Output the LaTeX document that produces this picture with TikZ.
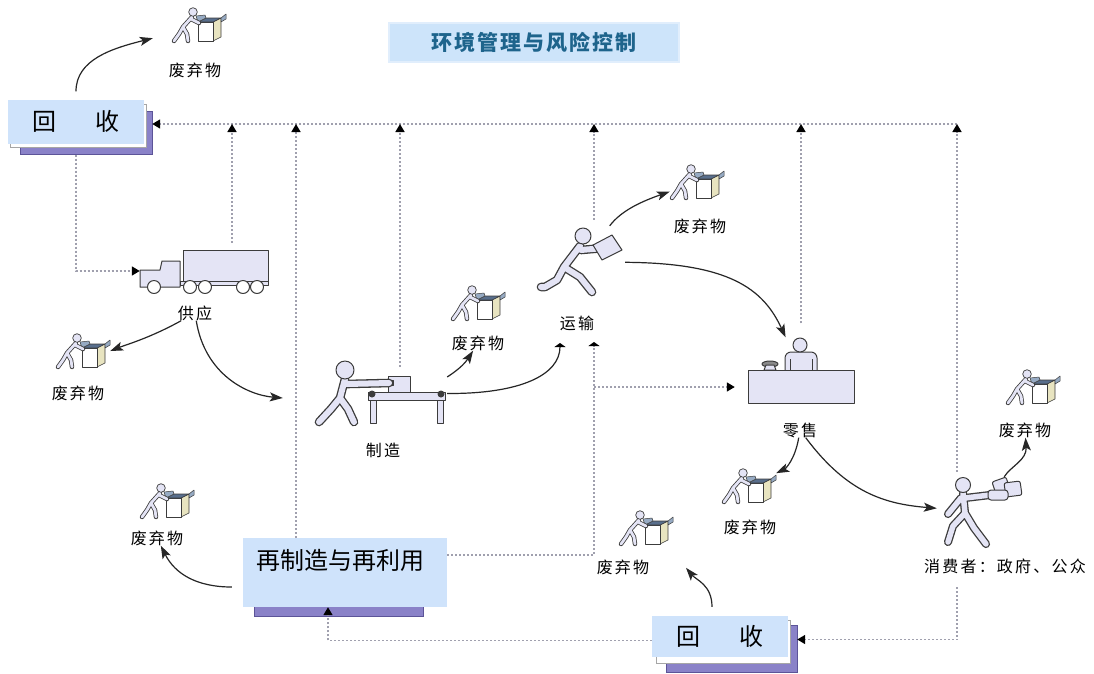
\documentclass[tikz,border=0pt]{standalone}
\usepackage{fontspec}
\newfontfamily\cjk{Noto Sans CJK SC}
\newfontfamily\cjkwide[LetterSpace=14]{Noto Sans CJK SC}
\newfontfamily\cjktitle[LetterSpace=9]{Noto Sans CJK SC}
\usetikzlibrary{arrows.meta}

\definecolor{boxblue}{RGB}{207,227,251}
\definecolor{titlefill}{RGB}{205,228,250}
\definecolor{titleedge}{RGB}{225,238,252}
\definecolor{titleblue}{RGB}{30,100,140}
\definecolor{boxshade}{RGB}{138,130,200}
\definecolor{shadeedge}{RGB}{92,84,152}
\definecolor{figfill}{RGB}{228,228,245}
\definecolor{figline}{RGB}{60,60,60}
\definecolor{dotgray}{RGB}{160,160,174}
\definecolor{flapblue}{RGB}{88,110,140}
\definecolor{flaplight}{RGB}{150,170,195}
\definecolor{cartonside}{RGB}{232,228,192}

\tikzset{
  lbl/.style={font=\cjkwide\fontsize{16}{16}\selectfont, inner sep=0pt},
  boxtxt/.style={font=\cjk\fontsize{24}{24}\selectfont, inner sep=0pt},
  titlebox/.style={fill=titlefill, draw=titleedge, line width=2pt,
    minimum width=290pt, minimum height=39pt, text=titleblue,
    font=\cjktitle\bfseries\fontsize{21}{21}\selectfont},
  stage/.style={fill=boxblue, inner sep=0pt},
  fig/.style={inner sep=0pt},
  icon/.style={inner sep=0pt, minimum width=54pt, minimum height=36pt},
  flow/.style={draw=black!85, line width=1.2pt, -{Stealth[length=13pt,width=9pt,inset=3pt]}},
  feed/.style={draw=dotgray, line width=1.6pt, dash pattern=on 2pt off 2pt,
    -{Triangle[length=8pt,width=9pt,color=black]}},
  stub/.style={-{Triangle[length=4pt,width=11pt,color=black]}},
  limb/.style={draw=figline, double=figfill, line width=1.3pt, line cap=round, line join=round},
  part/.style={draw=figline, fill=figfill, line width=1pt, line join=round},
  % worker pushing a carton
  waste/.pic={
    \draw[part, line width=0.6pt, fill=cartonside] (14,-3) -- (22,-7) -- (22,12) -- (14,16) -- cycle;
    \draw[part, line width=0.6pt, fill=white] (-1,-3) rectangle (14,16);
    \draw[part, line width=0.6pt, fill=flapblue] (-1,-3) -- (7,-7) -- (22,-7) -- (14,-3) -- cycle;
    \draw[part, line width=0.5pt, fill=flaplight] (-1,-3) -- (-3,-9) -- (6,-10) -- (7,-7) -- cycle;
    \draw[part, line width=0.5pt, fill=flaplight] (22,-7) -- (27,-11) -- (27,-6) -- (22,-3) -- cycle;
    \draw[limb, line width=0.8pt, double distance=2.8pt] (-7,-8) -- (-16,2) -- (-20,9) -- (-25,16)
      (-16,2) -- (-12,9) -- (-11,16) (-8,-6) -- (0,-2);
    \draw[part, line width=0.7pt] (-6,-13) circle (4.3);
  },
  truck/.pic={
    \draw[part] (-21,-21) rectangle (64,10);
    \draw[part] (-64,16) -- (-64,-1) -- (-44,-1) -- (-42,-10) -- (-24,-10) -- (-24,16) -- cycle;
    \draw[part] (-24,10) rectangle (64,14);
    \foreach \wx in {-50,-14,1,39,53}
      \draw[part, fill=white] (\wx,16) circle (6.5);
  },
  maker/.pic={
    \draw[part] (7,-17) rectangle (29,-1);
    \draw[part, fill=figline] (8,-13) rectangle (12,-8);
    \draw[part] (-13,-1) rectangle (64,7);
    \draw[part] (-11,7) rectangle (-5,30);
    \draw[part] (56,7) rectangle (62,30);
    \fill[figline] (-9,1) circle (3.5) (60,1) circle (3.5);
    \draw[limb, double distance=6pt] (-36,-14) -- (-41,5) -- (-50,16) -- (-62,29)
      (-41,5) -- (-33,16) -- (-27,29) (-34,-9) -- (8,-10);
    \draw[part] (-36,-23) circle (9);
  },
  carrier/.pic={
    \draw[limb, double distance=6pt] (-2,-16) -- (-18,5) -- (-25,18) -- (-37,25) -- (-41,25)
      (-18,5) -- (-2,15) -- (10,30) (-1,-12) -- (22,-14);
    \draw[part] (11,-17) -- (30,-27) -- (40,-12) -- (20,-2) -- cycle;
    \draw[part] (1,-26) circle (8);
  },
  retail/.pic={
    \draw[part, rounded corners=6pt] (-16,0) |- (16,-19) -- (16,0);
    \draw[figline, line width=0.8pt] (-11,-12) -- (-11,0) (11,-12) -- (11,0);
    \draw[part] (-1,-26) circle (7);
    \draw[part, fill=figline!60] (-31,-7) ellipse (8 and 3);
    \draw[part] (-37,-1) -- (-35,-6) -- (-27,-6) -- (-25,-1) -- cycle;
    \draw[part] (-53,-1) rectangle (53,32);
  },
  consumer/.pic={
    \draw[limb, double distance=5.5pt] (-19,-19) -- (-17,1) -- (-29,14) -- (-34,30)
      (-17,1) -- (-8,16) -- (4,32) (-21,-14) -- (-34,2) (-17,-14) -- (8,-17);
    \draw[part, rounded corners=2pt] (10,-30) -- (24,-35) -- (28,-22) -- (14,-18) -- cycle;
    \draw[part, rounded corners=2pt] (22,-29) -- (38,-31) -- (40,-17) -- (24,-15) -- cycle;
    \draw[part, rounded corners=3pt] (6,-22) rectangle (26,-12);
    \draw[part] (-19,-27) circle (7.5);
  },
}

\begin{document}
\begin{tikzpicture}[x=1pt, y=-1pt]
\fill[white] (0,0) rectangle (1094,673);
\useasboundingbox (0,0) rectangle (1094,673);

\node[titlebox] (title) at (534,42.5) {环境管理与风险控制};

% shadows under the three boxes
\draw[fill=boxshade, draw=shadeedge, line width=0.6pt] (20,111) rectangle (152,154);
\draw[fill=white, draw=black!35, line width=0.6pt] (10,104) rectangle (146,147);
\draw[fill=boxshade, draw=shadeedge, line width=0.6pt] (666,625) rectangle (797,672);
\draw[fill=white, draw=black!35, line width=0.6pt] (656,620) rectangle (790,663);
\draw[fill=boxshade, draw=shadeedge, line width=0.6pt] (254,600) rectangle (423,616);

\node[stage, minimum width=136pt, minimum height=44pt] (recycTop) at (76,121.5) {};
\node[boxtxt] (recycTopTxt) at (recycTop) {回\hspace{39pt}收};
\node[stage, minimum width=136pt, minimum height=41pt] (recycBot) at (720,636.5) {};
\node[boxtxt] (recycBotTxt) at (recycBot) {回\hspace{39pt}收};
\node[stage, minimum width=204pt, minimum height=69pt] (reuse) at (345,572.5) {};
\node[boxtxt] (reuseTxt) at (340,560) {再制造与再利用};

% chain stages
\node[fig, minimum width=128pt, minimum height=44pt] (truck) at (204,271) {};
\pic at (truck) {truck};
\node[lbl] (supplyTxt) at (195,313) {供应};
\node[fig, minimum width=132pt, minimum height=60pt] (maker) at (381,393) {};
\pic at (maker) {maker};
\node[lbl] (makeTxt) at (383,450) {制造};
\node[fig, minimum width=86pt, minimum height=72pt] (carrier) at (582,262) {};
\pic at (carrier) {carrier};
\node[lbl] (carryTxt) at (577,323) {运输};
\node[fig, minimum width=106pt, minimum height=67pt] (retail) at (801,371) {};
\pic at (retail) {retail};
\node[lbl] (retailTxt) at (800,430) {零售};
\node[fig, minimum width=90pt, minimum height=70pt] (consumer) at (982,512) {};
\pic at (consumer) {consumer};
\node[lbl] (userTxt) at (1005,566) {消费者：政府、公众};

% waste at every step
\foreach \n/\ix/\iy/\lx/\ly in {1/199/25/195/70, 2/83/351/78/393, 3/478/303/478/343,
    4/697/182/700/226, 5/749/486/750/527, 6/1033/387/1025/430, 7/646/528/623/567,
    8/167/501/157/538} {
  \node[icon] (w\n) at (\ix,\iy) {};
  \pic at (w\n) {waste};
  \node[lbl] (wt\n) at (\lx,\ly) {废弃物};
}

% material flow
\coordinate (carryOut) at ([shift={(-17pt,-20pt)}]carryTxt);
\draw[flow] ([yshift=8pt]recycTop.north) .. controls +(0,-32) and +(-40,10) .. ([shift={(-19pt,5pt)}]w1.south west);
\draw[flow] ([shift={(-30pt,-13pt)}]supplyTxt) .. controls +(-15,12) and +(15,-6) .. (w2.east);
\draw[flow] ([shift={(10pt,-22pt)}]supplyTxt) .. controls +(0,40) and +(-35,-3) .. ([shift={(-32pt,-5pt)}]maker.west);
\draw[flow] ([shift={(44pt,15pt)}]maker) .. controls +(22,-1) and +(-14,8) .. ([shift={(-2pt,-17pt)}]wt3);
\draw[flow, stub] ([shift={(84pt,-1pt)}]maker) .. controls +(55,0) and +(0,32) .. (carryOut);
\draw[flow] ([shift={(25pt,39pt)}]carrier) .. controls +(14,-12) and +(-18,4) .. ([shift={(-39pt,-16pt)}]w4);
\draw[flow] ([shift={(76pt,-4pt)}]carrier) .. controls +(70,-3) and +(-25,-40) .. ([shift={(-13pt,43pt)}]retail);
\draw[flow] ([shift={(-1pt,-18pt)}]retailTxt) .. controls +(-4,12) and +(8,-8) .. ([shift={(28pt,9pt)}]w5);
\draw[flow] ([shift={(17pt,-18pt)}]retailTxt) .. controls +(30,45) and +(-45,-8) .. ([xshift=-52pt]consumer);
\draw[flow] ([shift={(13pt,40pt)}]consumer) .. controls +(16,-6) and +(-8,10) .. ([shift={(10pt,-20pt)}]wt6);
\draw[flow] ([shift={(-8pt,9pt)}]recycBot.north) .. controls +(0,-22) and +(10,12) .. ([shift={(-34pt,48pt)}]recycBot.north);
\draw[flow] ([shift={(-11pt,-14.5pt)}]reuse.west) .. controls +(-35,0) and +(8,18) .. ([shift={(10pt,-18pt)}]wt8);

% return lines
\coordinate (busR) at (957,124);
\coordinate (busL) at ([shift={(8pt,-2.5pt)}]recycTop.east);
\draw[feed] (busR) -- (busL);
\coordinate (tapSupply) at ([shift={(28pt,6pt)}]truck.north);
\coordinate (tapReuse) at ([xshift=-49pt]reuse.north);
\coordinate (tapMake) at ([shift={(19pt,-4pt)}]maker.north);
\coordinate (tapCarry) at ([shift={(12pt,6pt)}]carrier.north);
\coordinate (tapRetail) at ([yshift=14pt]retail.north);
\coordinate (tapUser) at ([shift={(-25pt,5pt)}]consumer.north);
\foreach \t in {tapSupply,tapReuse,tapMake,tapCarry,tapRetail,tapUser}
  \draw[feed] (\t) -- (\t |- busR);
\draw[feed] ([yshift=-11pt]recycTop.south) |- (truck.west);

\coordinate (carryIn) at ([shift={(17pt,-19pt)}]carryTxt);
\coordinate (retailIn) at ([shift={(-13pt,-16pt)}]retail.west);
\draw[feed, stub] ([yshift=17.5pt]reuse.east) -| (carryIn);
\draw[feed] (carryIn |- retailIn) -- (retailIn);

\coordinate (userLow) at ([shift={(-48pt,-21pt)}]userTxt);
\draw[feed] (userLow) |- ([shift={(9pt,-3pt)}]recycBot.east);
\draw[feed] ([yshift=-4pt]recycBot.west) -| ([xshift=-17pt]reuse.south);
\end{tikzpicture}
\end{document}
